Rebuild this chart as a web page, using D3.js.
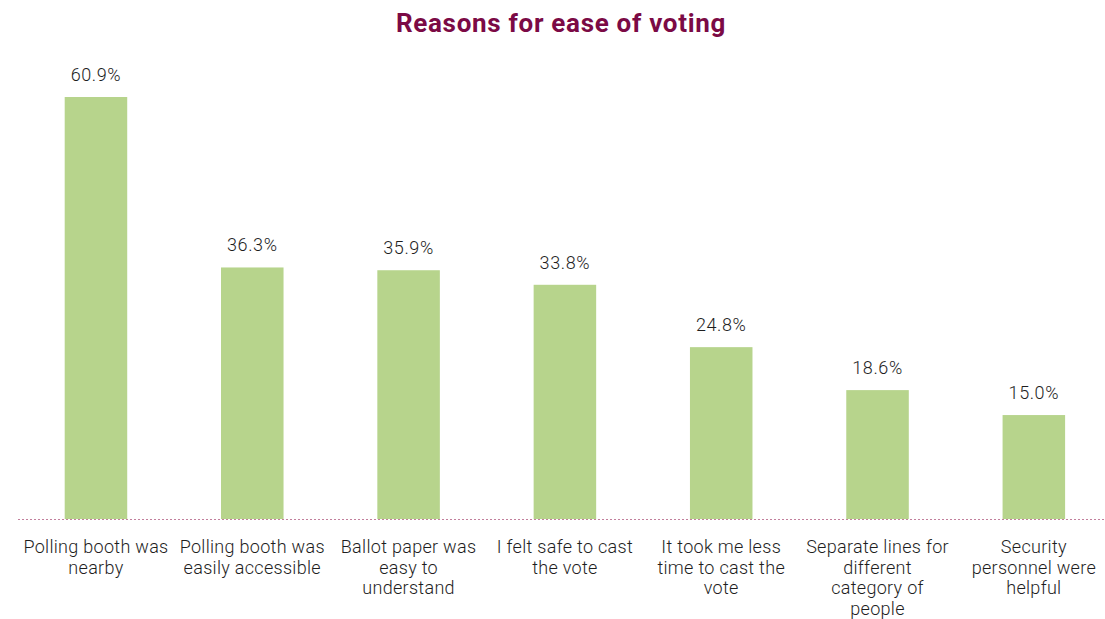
<!DOCTYPE html>
<html>
<head>
<meta charset="utf-8">
<script src="https://cdn.jsdelivr.net/npm/d3@7"></script>
<style>
  html, body { margin: 0; padding: 0; background: #fff; }
  svg { display: block; }
</style>
</head>
<body>
<svg id="chart" width="1105" height="619"></svg>
<script>
// Survey responses: reasons respondents found voting easy
const categories = [
  ["Polling booth was", "nearby"],
  ["Polling booth was", "easily accessible"],
  ["Ballot paper was", "easy to", "understand"],
  ["I felt safe to cast", "the vote"],
  ["It took me less", "time to cast the", "vote"],
  ["Separate lines for", "different", "category of", "people"],
  ["Security", "personnel were", "helpful"]
];
const values = [60.9, 36.3, 35.9, 33.8, 24.8, 18.6, 15.0];
const valueLabels = ["60.9%", "36.3%", "35.9%", "33.8%", "24.8%", "18.6%", "15.0%"];
const titleText = "Reasons for ease of voting";

const svg = d3.select("#chart");
const baseY = 519;
const keys = categories.map((c, i) => i);

const x = d3.scaleBand()
  .domain(keys)
  .range([17.8, 1112])
  .paddingInner(0.6)
  .paddingOuter(0.3);

const y = d3.scaleLinear()
  .domain([0, 60.9])
  .range([baseY, 97]);

// Title
svg.append("text")
  .attr("x", 561)
  .attr("y", 32)
  .attr("text-anchor", "middle")
  .attr("font-family", "Roboto, 'Open Sans', sans-serif")
  .attr("font-weight", 700)
  .attr("font-size", 26)
  .attr("letter-spacing", 0.7)
  .attr("fill", "#7b0a45")
  .text(titleText);

// Bars
svg.append("g").selectAll("rect")
  .data(values)
  .join("rect")
  .attr("x", (d, i) => x(i))
  .attr("y", d => y(d))
  .attr("width", x.bandwidth())
  .attr("height", d => baseY - y(d))
  .attr("fill", "#b7d48c");

// Value labels
svg.append("g").selectAll("text")
  .data(values)
  .join("text")
  .attr("x", (d, i) => x(i) + x.bandwidth() / 2)
  .attr("y", d => y(d) - 16)
  .attr("text-anchor", "middle")
  .attr("font-family", "Roboto, 'Open Sans', sans-serif")
  .attr("font-weight", 300)
  .attr("font-size", 18)
  .attr("letter-spacing", 0.6)
  .attr("fill", "#1e1e1e")
  .text((d, i) => valueLabels[i]);

// Baseline (dotted)
svg.append("line")
  .attr("x1", 18)
  .attr("x2", 1105)
  .attr("y1", baseY + 0.5)
  .attr("y2", baseY + 0.5)
  .attr("stroke", "#c27f9c")
  .attr("stroke-width", 1.2)
  .attr("stroke-dasharray", "2,2");

// Category labels (wrapped)
const catG = svg.append("g").selectAll("text")
  .data(categories)
  .join("text")
  .attr("text-anchor", "middle")
  .attr("font-family", "Roboto, 'Open Sans', sans-serif")
  .attr("font-weight", 300)
  .attr("font-size", 18)
  .attr("letter-spacing", 0.3)
  .attr("fill", "#1e1e1e");

catG.each(function(lines, i) {
  const t = d3.select(this);
  lines.forEach((ln, j) => {
    t.append("tspan")
      .attr("x", x(i) + x.bandwidth() / 2)
      .attr("y", 553 + j * 20.6)
      .text(ln);
  });
});
</script>
</body>
</html>
